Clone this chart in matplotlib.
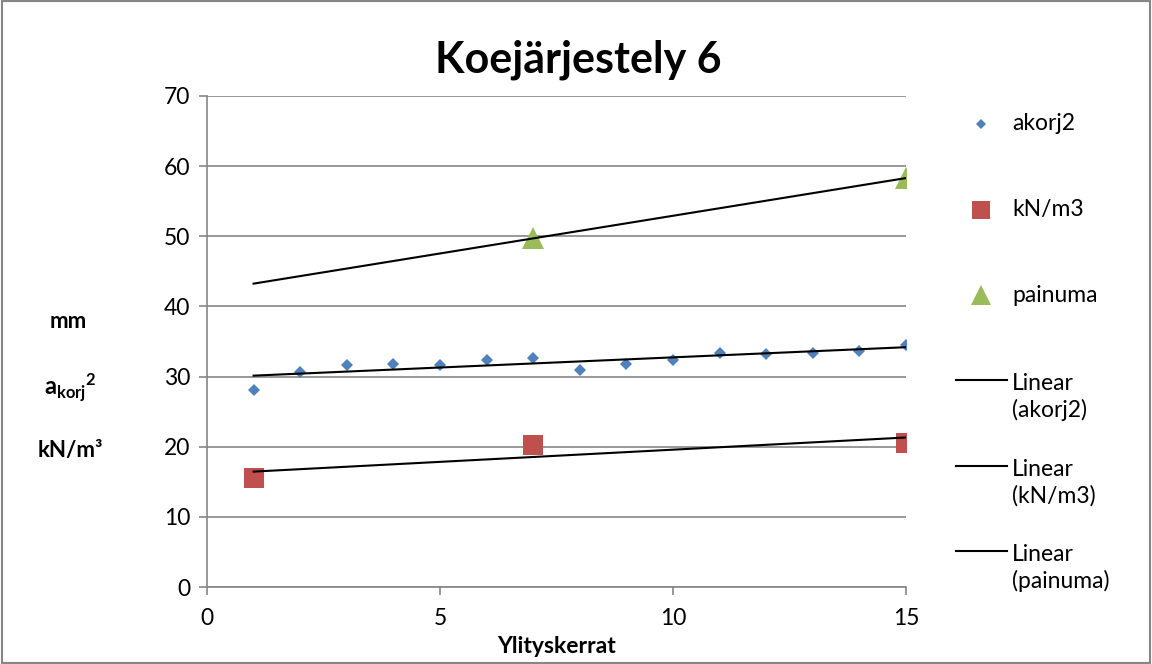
import numpy as np
import matplotlib
matplotlib.use("Agg")
from matplotlib import pyplot as plt
from matplotlib.lines import Line2D
from matplotlib.patches import Rectangle

plt.rcParams['font.family'] = ['Lato', 'DejaVu Sans']
plt.rcParams['mathtext.fontset'] = 'custom'
plt.rcParams['mathtext.rm'] = 'Lato'
plt.rcParams['mathtext.bf'] = 'Lato:bold'

# data
akorj_x = [1, 2, 3, 4, 5, 6, 7, 8, 9, 10, 11, 12, 13, 14, 15]
akorj_y = [28.1, 30.7, 31.7, 31.8, 31.7, 32.4, 32.7, 30.9, 31.8, 32.4, 33.4, 33.2, 33.4, 33.7, 34.5]
kn_x = [1, 7, 15]
kn_y = [15.5, 20.2, 20.6]
painuma_x = [7, 15]
painuma_y = [49.7, 58.3]

blue = '#4F81BD'
red = '#C0504D'
green = '#9BBB59'
grid = '#868686'

fig = plt.figure(figsize=(11.52, 6.64), dpi=100)
ax = fig.add_axes([207 / 1152, 1 - 587 / 664, 699 / 1152, 491 / 664])

ax.plot(akorj_x, akorj_y, 'D', color=blue, markersize=6, markeredgewidth=0, zorder=3)
ax.plot(kn_x, kn_y, 's', color=red, markersize=14, markeredgewidth=0, zorder=3)
ax.plot(painuma_x, painuma_y, '^', color=green, markersize=16, markeredgewidth=0, zorder=3)

# linear trendlines, drawn across the x span of the measurements
tx = np.array([min(akorj_x), max(akorj_x)])
for xs, ys in [(akorj_x, akorj_y), (kn_x, kn_y), (painuma_x, painuma_y)]:
    k, b = np.polyfit(xs, ys, 1)
    ax.plot(tx, k * tx + b, color='black', linewidth=1.5, zorder=4)

ax.set_xlim(0, 15)
ax.set_ylim(0, 70)
ax.set_xticks([0, 5, 10, 15])
ax.set_yticks(range(0, 71, 10))
ax.yaxis.grid(True, color=grid, linewidth=1.2)
ax.set_axisbelow(True)
for s in ['top', 'right']:
    ax.spines[s].set_visible(False)
for s in ['left', 'bottom']:
    ax.spines[s].set_color(grid)
    ax.spines[s].set_linewidth(1.2)
ax.tick_params(colors=grid, labelcolor='black', labelsize=16.5, length=6, width=1.2)
ax.tick_params(axis='x', pad=9)
ax.tick_params(axis='y', pad=6)
ax.set_xlabel('Ylityskerrat', fontsize=16.5, fontweight='bold', labelpad=5)

fig.text(0.5018, 1 - 60 / 664, 'Koejärjestely 6', fontsize=31, fontweight='bold',
         ha='center', va='center')

# y axis labels on the left
fig.text(68 / 1152, 1 - 322 / 664, 'mm', fontsize=16, fontweight='bold', ha='center', va='center')
fig.text(70 / 1152, 1 - 388 / 664, r'$\mathbf{{a_{korj}}^{2}}$', fontsize=17, ha='center', va='center')
fig.text(70 / 1152, 1 - 450 / 664, 'kN/m³', fontsize=16, fontweight='bold', ha='center', va='center')

# legend
leg = [
    ('akorj2', 124, dict(marker='D', color=blue, markersize=5, linestyle='none')),
    ('kN/m3', 210, dict(marker='s', color=red, markersize=13, linestyle='none')),
    ('painuma', 295, dict(marker='^', color=green, markersize=14, linestyle='none')),
]
for label, py, style in leg:
    fig.add_artist(Line2D([981 / 1152], [1 - py / 664], transform=fig.transFigure,
                          markeredgewidth=0, **style))
    fig.text(1012 / 1152, 1 - py / 664, label, fontsize=16.5, va='center')
for label, py in [('Linear\n(akorj2)', 380), ('Linear\n(kN/m3)', 466), ('Linear\n(painuma)', 551)]:
    fig.add_artist(Line2D([956 / 1152, 1007 / 1152], [1 - py / 664] * 2,
                          transform=fig.transFigure, color='black', linewidth=1.5))
    fig.text(1012 / 1152, 1 - (py + 17) / 664, label, fontsize=16.5, va='center', linespacing=1.3)

fig.add_artist(Rectangle((0.002, 0.002), 0.996, 0.996, transform=fig.transFigure,
                         fill=False, edgecolor=grid, linewidth=1.5))

fig.savefig('out.png', dpi=100)
